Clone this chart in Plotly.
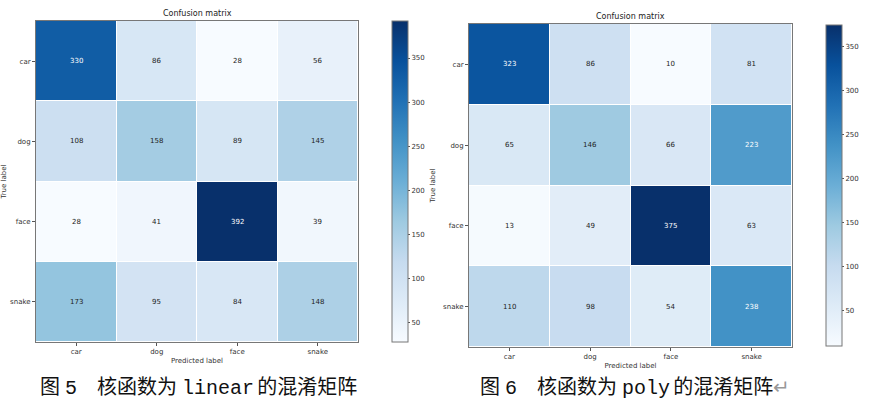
import plotly.graph_objects as go

classes = ["car", "dog", "face", "snake"]
cm_linear = [
    [330, 86, 28, 56],
    [108, 158, 89, 145],
    [28, 41, 392, 39],
    [173, 95, 84, 148],
]
cm_poly = [
    [323, 86, 10, 81],
    [65, 146, 66, 223],
    [13, 49, 375, 63],
    [110, 98, 54, 238],
]
cbar_ticks = [50, 100, 150, 200, 250, 300, 350]
title_text = "Confusion matrix"
captions = [
    "图\u20055\u2003核函数为\u2005linear\u2006的混淆矩阵",
    "图\u20056\u2003核函数为\u2005poly\u2006的混淆矩阵<span style='color:#999999'>\u21b5</span>",
]

W, H = 869, 410
blues = [
    [0.0, "#f7fbff"], [0.125, "#deebf7"], [0.25, "#c6dbef"], [0.375, "#9ecae1"],
    [0.5, "#6baed6"], [0.625, "#4292c6"], [0.75, "#2171b5"], [0.875, "#08519c"],
    [1.0, "#08306b"],
]

def px_x(v):
    return v / W

def px_y(v):
    return 1 - v / H

panels = [
    dict(cm=cm_linear, x0=36, x1=358, y0=21, y1=342, cbx=392, cby0=21, cby1=342),
    dict(cm=cm_poly, x0=469, x1=792, y0=24, y1=347, cbx=826, cby0=25, cby1=346),
]

fig = go.Figure()
annotations = []
tickfont = dict(family="DejaVu Sans", size=7, color="#333333")
for i, p in enumerate(panels):
    n = i + 1
    xa = "x" if n == 1 else f"x{n}"
    ya = "y" if n == 1 else f"y{n}"
    cm = p["cm"]
    flat = [v for row in cm for v in row]
    zmin, zmax = min(flat), max(flat)
    fig.add_trace(go.Heatmap(
        z=cm, x=classes, y=classes, xaxis=xa, yaxis=ya,
        colorscale=blues, zmin=zmin, zmax=zmax, xgap=1, ygap=1,
        hoverinfo="skip",
        colorbar=dict(
            x=px_x(p["cbx"]), xanchor="left", xpad=0, ypad=0,
            y=px_y(p["cby0"]), yanchor="top",
            lenmode="pixels", len=p["cby1"] - p["cby0"],
            thicknessmode="pixels", thickness=16,
            outlinewidth=1, outlinecolor="#777777",
            tickvals=cbar_ticks, ticks="outside", ticklen=2, tickcolor="#555555",
            tickfont=tickfont,
        ),
    ))
    thresh = zmax / 2
    for r, cls_r in enumerate(classes):
        for c, cls_c in enumerate(classes):
            v = cm[r][c]
            annotations.append(dict(
                x=cls_c, y=cls_r, xref=xa, yref=ya, text=str(v), showarrow=False,
                font=dict(family="DejaVu Sans", size=7,
                          color="white" if v > thresh else "#222222"),
            ))
    axkey_x = "xaxis" if n == 1 else f"xaxis{n}"
    axkey_y = "yaxis" if n == 1 else f"yaxis{n}"
    fig.layout[axkey_x] = dict(
        domain=[px_x(p["x0"]), px_x(p["x1"])], anchor=ya,
        showline=True, mirror=True, linecolor="#777777", linewidth=1,
        ticks="outside", ticklen=3, tickcolor="#555555", tickfont=tickfont,
        showgrid=False, zeroline=False, fixedrange=True,
        title=dict(text="Predicted label", font=dict(family="DejaVu Sans", size=7, color="#333333"), standoff=2),
    )
    fig.layout[axkey_y] = dict(
        domain=[px_y(p["y1"]), px_y(p["y0"])], anchor=xa,
        autorange="reversed",
        showline=True, mirror=True, linecolor="#777777", linewidth=1,
        ticks="outside", ticklen=3, tickcolor="#555555", tickfont=tickfont,
        showgrid=False, zeroline=False, fixedrange=True,
        title=dict(text="True label", font=dict(family="DejaVu Sans", size=7, color="#333333"), standoff=6),
    )
    annotations.append(dict(
        x=(px_x(p["x0"]) + px_x(p["x1"])) / 2, y=px_y(p["y0"]),
        xref="paper", yref="paper", yanchor="bottom", xanchor="center",
        text=title_text, showarrow=False, yshift=1,
        font=dict(family="DejaVu Sans", size=8, color="#222222"),
    ))

cap_pos = [(38, 388), (478, 388)]
for (cx, cy), txt in zip(cap_pos, captions):
    annotations.append(dict(
        x=px_x(cx), y=px_y(cy), xref="paper", yref="paper",
        xanchor="left", yanchor="middle", text=txt, showarrow=False,
        font=dict(family="Liberation Mono, Noto Sans CJK SC", size=20, color="#111111"),
    ))

fig.update_layout(
    width=W, height=H, margin=dict(l=0, r=0, t=0, b=0),
    paper_bgcolor="white", plot_bgcolor="white",
    annotations=annotations, showlegend=False,
)
fig.write_html("out.html")
